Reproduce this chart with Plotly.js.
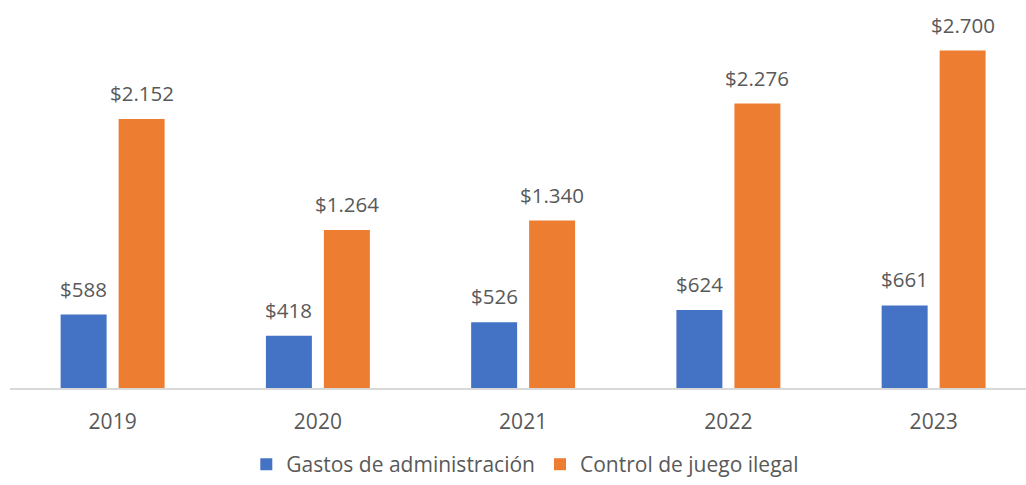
<!DOCTYPE html>
<html>
<head>
<meta charset="utf-8">
<script src="https://cdn.plot.ly/plotly-3.0.1.min.js"></script>
<style>html,body{margin:0;padding:0;background:#fff;}#chart{width:1026px;height:485px;}</style>
</head>
<body>
<div id="chart"></div>
<script>
const years = ["2019", "2020", "2021", "2022", "2023"];
const gastosAdmin = [588, 418, 526, 624, 661];
const controlJuego = [2152, 1264, 1340, 2276, 2700];
const seriesNames = ["Gastos de administración", "Control de juego ilegal"];
const seriesColors = ["#4472C4", "#ED7D31"];

function fmt(v) {
  return "$" + v.toString().replace(/\B(?=(\d{3})+(?!\d))/g, ".");
}

const traces = [gastosAdmin, controlJuego].map((vals, i) => ({
  type: "bar",
  x: years,
  y: vals,
  name: seriesNames[i],
  marker: { color: seriesColors[i] },
  hoverinfo: "skip"
}));

const annotations = [];
[gastosAdmin, controlJuego].forEach((vals, i) => {
  vals.forEach((v, j) => {
    annotations.push({
      x: j, y: v, xref: "x", yref: "y",
      text: fmt(v), showarrow: false,
      xanchor: "center", yanchor: "bottom",
      xshift: i === 0 ? -29 : 29, yshift: 10,
      font: { family: "Open Sans, sans-serif", size: 20.5, color: "#595959" }
    });
  });
});

const layout = {
  width: 1026, height: 485,
  margin: { l: 10, r: 0, t: 13, b: 97 },
  paper_bgcolor: "#fff", plot_bgcolor: "#fff",
  barmode: "group",
  bargap: 0.435,
  bargroupgap: 0.207,
  showlegend: true,
  legend: {
    orientation: "h", x: 0.512, xref: "container", xanchor: "center",
    y: -0.024, yref: "container", yanchor: "bottom",
    font: { family: "Open Sans, sans-serif", size: 21, color: "#595959" },
    itemwidth: 30, tracegroupgap: 0
  },
  xaxis: {
    type: "category",
    range: [-0.5, 4.45],
    showline: true, linecolor: "#D9D9D9", linewidth: 1.5,
    showgrid: false, zeroline: false,
    ticks: "", ticklabelstandoff: 14,
    tickfont: { family: "Open Sans, sans-serif", size: 21, color: "#595959" },
    fixedrange: true
  },
  yaxis: {
    range: [0, 3000],
    showticklabels: false, showline: false, ticks: "",
    showgrid: false, zeroline: false,
    fixedrange: true
  },
  annotations: annotations
};

Plotly.newPlot("chart", traces, layout, { displayModeBar: false, staticPlot: true });
</script>
</body>
</html>
